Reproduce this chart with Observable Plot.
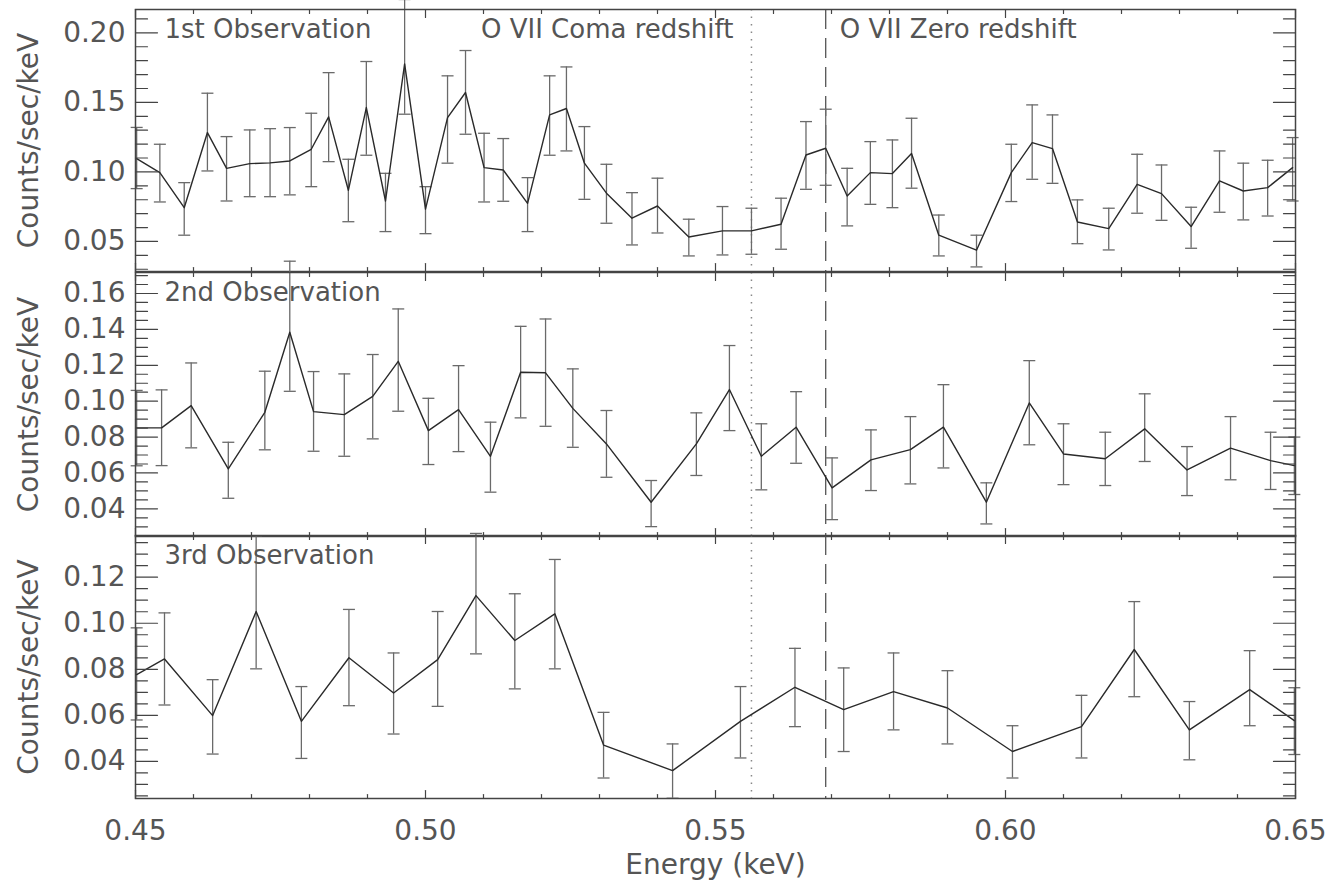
<!DOCTYPE html>
<html><head><meta charset="utf-8">
<script src="https://cdn.jsdelivr.net/npm/d3@7"></script>
<script src="https://cdn.jsdelivr.net/npm/@observablehq/plot@0.6"></script>
<style>
body{margin:0;background:#fff;}
#chart{position:relative;width:1328px;height:885px;background:#fff;}
#chart svg{position:absolute;left:0;}
</style>
</head><body><div id="chart"></div>
<script>
// ---- Data ----
const energy1 = [0.4502,0.4542,0.4584,0.4624,0.4657,0.4697,0.4732,0.4766,0.4803,0.4833,0.4867,0.4898,0.4931,0.4964,0.5000,0.5038,0.5069,0.5101,0.5134,0.5176,0.5214,0.5243,0.5274,0.5312,0.5356,0.5400,0.5454,0.5512,0.5562,0.5613,0.5656,0.5690,0.5727,0.5767,0.5805,0.5838,0.5885,0.5950,0.6010,0.6046,0.6081,0.6124,0.6178,0.6227,0.6269,0.6320,0.6369,0.6410,0.6452,0.6495];
const counts1 = [0.1095,0.0995,0.0743,0.1283,0.1026,0.1060,0.1065,0.1079,0.1163,0.1396,0.0868,0.1463,0.0791,0.1777,0.0732,0.1391,0.1571,0.1031,0.1014,0.0774,0.1410,0.1456,0.1063,0.0847,0.0667,0.0755,0.0532,0.0576,0.0576,0.0624,0.1122,0.1170,0.0827,0.0995,0.0988,0.1132,0.0545,0.0437,0.0995,0.1211,0.1168,0.0640,0.0592,0.0911,0.0844,0.0607,0.0935,0.0863,0.0887,0.1031];
const low1 = [0.0880,0.0784,0.0545,0.1007,0.0791,0.0822,0.0822,0.0835,0.0894,0.1074,0.0642,0.1120,0.0571,0.1415,0.0556,0.1063,0.1271,0.0784,0.0789,0.0571,0.1120,0.1151,0.0803,0.0631,0.0475,0.0561,0.0396,0.0403,0.0408,0.0444,0.0875,0.0904,0.0612,0.0767,0.0743,0.0883,0.0396,0.0317,0.0787,0.0947,0.0918,0.0484,0.0439,0.0703,0.0652,0.0451,0.0710,0.0655,0.0683,0.0791];
const high1 = [0.1320,0.1199,0.0923,0.1566,0.1254,0.1302,0.1311,0.1319,0.1422,0.1714,0.1091,0.1794,0.0990,0.2240,0.0894,0.1691,0.1873,0.1278,0.1240,0.0959,0.1691,0.1755,0.1326,0.1055,0.0851,0.0955,0.0660,0.0751,0.0739,0.0811,0.1362,0.1451,0.1026,0.1218,0.1230,0.1386,0.0690,0.0545,0.1199,0.1482,0.1410,0.0799,0.0739,0.1127,0.1050,0.0746,0.1151,0.1063,0.1084,0.1247];

const energy2 = [0.4502,0.4545,0.4596,0.4660,0.4723,0.4766,0.4807,0.4860,0.4909,0.4953,0.5005,0.5057,0.5112,0.5164,0.5207,0.5254,0.5312,0.5389,0.5467,0.5524,0.5579,0.5639,0.5701,0.5768,0.5836,0.5893,0.5967,0.6041,0.6100,0.6172,0.6240,0.6313,0.6388,0.6457,0.6498];
const counts2 = [0.0851,0.0851,0.0975,0.0623,0.0938,0.1384,0.0942,0.0925,0.1027,0.1222,0.0836,0.0953,0.0693,0.1161,0.1158,0.0960,0.0762,0.0437,0.0762,0.1065,0.0693,0.0855,0.0517,0.0673,0.0730,0.0855,0.0437,0.0990,0.0706,0.0679,0.0846,0.0617,0.0738,0.0669,0.0641];
const low2 = [0.0640,0.0641,0.0740,0.0459,0.0729,0.1055,0.0721,0.0693,0.0790,0.0944,0.0647,0.0719,0.0493,0.0907,0.0860,0.0743,0.0576,0.0301,0.0586,0.0836,0.0506,0.0654,0.0340,0.0502,0.0539,0.0628,0.0316,0.0757,0.0535,0.0530,0.0664,0.0474,0.0562,0.0508,0.0480];
const high2 = [0.1060,0.1063,0.1213,0.0771,0.1167,0.1780,0.1165,0.1152,0.1260,0.1514,0.1016,0.1198,0.0883,0.1417,0.1458,0.1180,0.0948,0.0558,0.0935,0.1310,0.0874,0.1053,0.0684,0.0840,0.0914,0.1092,0.0545,0.1226,0.0874,0.0827,0.1041,0.0747,0.0914,0.0827,0.0800];

const energy3 = [0.4502,0.4550,0.4633,0.4708,0.4786,0.4868,0.4945,0.5021,0.5087,0.5154,0.5223,0.5307,0.5426,0.5543,0.5637,0.5721,0.5807,0.5900,0.6012,0.6131,0.6222,0.6317,0.6421,0.6498];
const counts3 = [0.0777,0.0845,0.0599,0.1051,0.0574,0.0850,0.0697,0.0842,0.1120,0.0925,0.1041,0.0471,0.0360,0.0574,0.0722,0.0625,0.0703,0.0632,0.0443,0.0551,0.0886,0.0537,0.0712,0.0577];
const low3 = [0.0580,0.0645,0.0432,0.0802,0.0413,0.0642,0.0519,0.0639,0.0867,0.0715,0.0802,0.0328,0.0240,0.0415,0.0551,0.0443,0.0537,0.0476,0.0328,0.0415,0.0681,0.0407,0.0555,0.0430];
const high3 = [0.0980,0.1045,0.0755,0.1380,0.0725,0.1060,0.0871,0.1051,0.1390,0.1128,0.1277,0.0613,0.0476,0.0725,0.0891,0.0806,0.0871,0.0794,0.0555,0.0687,0.1094,0.0660,0.0881,0.0720];

const panelLabels = ["1st Observation", "2nd Observation", "3rd Observation"];
const comaLine = 0.5562;   // O VII at Coma redshift
const zeroLine = 0.569;    // O VII at zero redshift
const lineLabels = ["O VII Coma redshift", "O VII Zero redshift"];
const xDomain = [0.45, 0.65];
const xMajor = [0.45, 0.50, 0.55, 0.60, 0.65];
const xTickLabels = ["0.45", "0.50", "0.55", "0.60", "0.65"];
const yDomains = [[0.0284, 0.2168], [0.0246, 0.1717], [0.0239, 0.1381]];
const yMajors = [[0.05, 0.10, 0.15, 0.20], [0.04, 0.06, 0.08, 0.10, 0.12, 0.14, 0.16], [0.04, 0.06, 0.08, 0.10, 0.12]];
const yMinorStep = [0.01, 0.005, 0.005];
const yLabel = "Counts/sec/keV";
const xLabel = "Energy (keV)";

// ---- helpers ----
const FONT = "DejaVu Sans, sans-serif";
const TEXT = "#555";
const lineShape = {draw(ctx, l) { ctx.moveTo(0, 0); ctx.lineTo(0, -l); }};
const capSymbol = {draw(ctx, size) { const r = Math.sqrt(size / Math.PI); ctx.moveTo(-r, 0); ctx.lineTo(r, 0); }};
function minorTicks(domain, step, majors) {
  const out = [];
  const start = Math.ceil(domain[0] / step - 1e-9), end = Math.floor(domain[1] / step + 1e-9);
  for (let i = start; i <= end; i++) {
    const v = +(i * step).toFixed(4);
    if (!majors.some(m => Math.abs(m - v) < 1e-6)) out.push(v);
  }
  return out;
}
const xMinor = minorTicks(xDomain, 0.01, xMajor).filter(v => v > xDomain[0] + 1e-6 && v < xDomain[1] - 1e-6);
function yTicks(vals, anchor, len) {
  return Plot.vector(vals, {y: d => d, frameAnchor: anchor, rotate: anchor === "left" ? 90 : -90, length: len, anchor: "start", shape: lineShape, stroke: "#444", strokeWidth: 1.2});
}
function xTicks(vals, anchor, len) {
  return Plot.vector(vals, {x: d => d, frameAnchor: anchor, rotate: anchor === "top" ? 180 : 0, length: len, anchor: "start", shape: lineShape, stroke: "#444", strokeWidth: 1.2});
}

const series = [
  [energy1, counts1, low1, high1],
  [energy2, counts2, low2, high2],
  [energy3, counts3, low3, high3]
];
const layout = [
  {top: 0, height: 272, mt: 9, mb: 1},
  {top: 271, height: 266, mt: 1, mb: 1},
  {top: 534, height: 351, mt: 1, mb: 87}
];

const chart = document.getElementById("chart");
series.forEach(([E, C, L, H], p) => {
  const rows = E.map((e, i) => ({e, c: C[i], lo: L[i], hi: H[i]}));
  const lay = layout[p];
  const majors = yMajors[p];
  const minors = minorTicks(yDomains[p], yMinorStep[p], majors);
  const marks = [
    Plot.ruleX([comaLine], {stroke: "#888", strokeWidth: 1.5, strokeDasharray: "1.5,6"}),
    Plot.ruleX([zeroLine], {stroke: "#555", strokeWidth: 1.3, strokeDasharray: "20,9"}),
    Plot.ruleX(rows, {x: "e", y1: "lo", y2: "hi", stroke: "#6a6a6a", strokeWidth: 1.3}),
    Plot.dot(rows, {x: "e", y: "lo", r: 6, symbol: capSymbol, fill: "none", stroke: "#6a6a6a", strokeWidth: 1.3}),
    Plot.dot(rows, {x: "e", y: "hi", r: 6, symbol: capSymbol, fill: "none", stroke: "#6a6a6a", strokeWidth: 1.3}),
    Plot.line(rows, {x: "e", y: "c", stroke: "#2a2a2a", strokeWidth: 1.4}),
    Plot.frame({stroke: "#444", strokeWidth: 1.5}),
    yTicks(majors, "left", 22), yTicks(minors, "left", 12),
    yTicks(majors, "right", 22), yTicks(minors, "right", 12),
    xTicks(xMajor, "top", 8), xTicks(xMinor, "top", 4),
    xTicks(xMajor, "bottom", 8), xTicks(xMinor, "bottom", 4),
    Plot.axisY({ticks: majors, tickSize: 0, tickPadding: 10, tickFormat: d3.format(".2f"), fontSize: 28, fill: TEXT, label: null}),
    Plot.text([panelLabels[p]], {frameAnchor: "top-left", dx: 29, dy: 10, lineAnchor: "top", textAnchor: "start", fontSize: 26, fill: TEXT}),
    Plot.text([yLabel], {frameAnchor: "left", dx: -106, rotate: -90, textAnchor: "middle", lineAnchor: "middle", fontSize: 28, fill: TEXT, style: {letterSpacing: "0.5px"}})
  ];
  if (p === 0) {
    marks.push(Plot.text([comaLine], {x: d => d, text: () => lineLabels[0], frameAnchor: "top", dx: -18, dy: 10, lineAnchor: "top", textAnchor: "end", fontSize: 26, fill: TEXT, style: {letterSpacing: "1px"}}));
    marks.push(Plot.text([zeroLine], {x: d => d, text: () => lineLabels[1], frameAnchor: "top", dx: 14, dy: 10, lineAnchor: "top", textAnchor: "start", fontSize: 26, fill: TEXT, style: {letterSpacing: "1px"}}));
  }
  if (p === 2) {
    marks.push(Plot.axisX({ticks: xMajor, tickSize: 0, tickPadding: 22, tickFormat: (d, i) => xTickLabels[i], fontSize: 28, fill: TEXT, label: null}));
    marks.push(Plot.text([xLabel], {frameAnchor: "bottom", dy: 67, textAnchor: "middle", lineAnchor: "middle", fontSize: 28, fill: TEXT}));
  }
  const svg = Plot.plot({
    width: 1328, height: lay.height,
    marginLeft: 135, marginRight: 33, marginTop: lay.mt, marginBottom: lay.mb,
    x: {domain: xDomain, axis: null},
    y: {domain: yDomains[p], axis: null},
    style: {fontFamily: FONT, background: "none", overflow: "visible"},
    marks
  });
  svg.style.top = lay.top + "px";
  chart.appendChild(svg);
});
</script>
</body></html>
